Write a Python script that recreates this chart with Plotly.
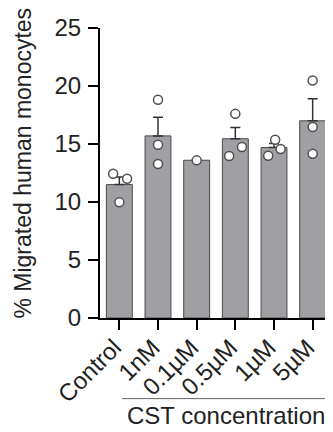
import plotly.graph_objects as go

categories = ["Control", "1nM", "0.1µM", "0.5µM", "1µM", "5µM"]
means = [11.5, 15.7, 13.6, 15.45, 14.7, 17.0]
sem = [0.65, 1.6, 0.0, 0.97, 0.35, 1.9]
points = [
    [12.44, 12.0, 9.97],
    [18.82, 14.94, 13.27],
    [13.59],
    [17.6, 13.97, 14.74],
    [15.37, 13.99, 14.57],
    [20.48, 16.46, 14.16],
]
jitter = [
    [-0.16, 0.2, 0.0],
    [0.0, 0.0, 0.0],
    [0.0],
    [0.0, -0.16, 0.17],
    [0.03, -0.15, 0.17],
    [0.0, 0.0, 0.0],
]
y_ticks = [0, 5, 10, 15, 20, 25]

FONT = "Liberation Sans, Arial, sans-serif"
idx = list(range(len(categories)))

fig = go.Figure()
fig.add_trace(go.Bar(
    x=idx, y=means, width=0.67,
    marker=dict(color="#a0a0a4", line=dict(color="#4a4a4a", width=1)),
    error_y=dict(type="data", array=sem, arrayminus=[0] * len(sem), symmetric=False,
                 color="#333333", thickness=1.5, width=5),
    showlegend=False,
))
px, py = [], []
for i, (vals, jit) in enumerate(zip(points, jitter)):
    for v, j in zip(vals, jit):
        px.append(i + j)
        py.append(v)
fig.add_trace(go.Scatter(
    x=px, y=py, mode="markers",
    marker=dict(symbol="circle", size=9, color="white", line=dict(color="#505050", width=1.5)),
    showlegend=False, cliponaxis=False,
))

# page body has an 8px margin, so the figure is 8px smaller than the window
fig.update_layout(
    width=325, height=424,
    margin=dict(l=92, r=1, t=20, b=114),
    plot_bgcolor="white", paper_bgcolor="white",
    font=dict(family=FONT, size=23, color="#222222"),
    xaxis=dict(range=[-0.5, 5.5], tickvals=idx, ticktext=categories, tickangle=-45,
               showline=True, linecolor="black", linewidth=2, ticks="outside",
               ticklen=10, tickwidth=2, tickcolor="black", showgrid=False, zeroline=False,
               tickfont=dict(size=24), automargin=False,
               ticklabelshift=-5, ticklabelstandoff=-6),
    yaxis=dict(range=[0, 25], tickvals=y_ticks, showline=True, linecolor="black", linewidth=2,
               ticks="outside", ticklen=10, tickwidth=2, tickcolor="black",
               showgrid=False, zeroline=False, tickfont=dict(size=24), automargin=False,
               ticklabelstandoff=2),
    bargap=0.33,
)
fig.add_annotation(text="% Migrated human monocytes", textangle=-90,
                   xref="paper", yref="paper", x=-0.332, y=0.536,
                   xanchor="center", yanchor="middle", showarrow=False,
                   font=dict(size=23))
fig.add_shape(type="line", xref="paper", yref="paper", x0=0.095, x1=1.0,
              y0=-0.278, y1=-0.278, line=dict(color="#666666", width=1))
fig.add_annotation(text="CST concentration", xref="paper", yref="paper",
                   x=0.543, y=-0.337, xanchor="center", yanchor="middle",
                   showarrow=False, font=dict(size=24))

fig.write_html("out.html")
